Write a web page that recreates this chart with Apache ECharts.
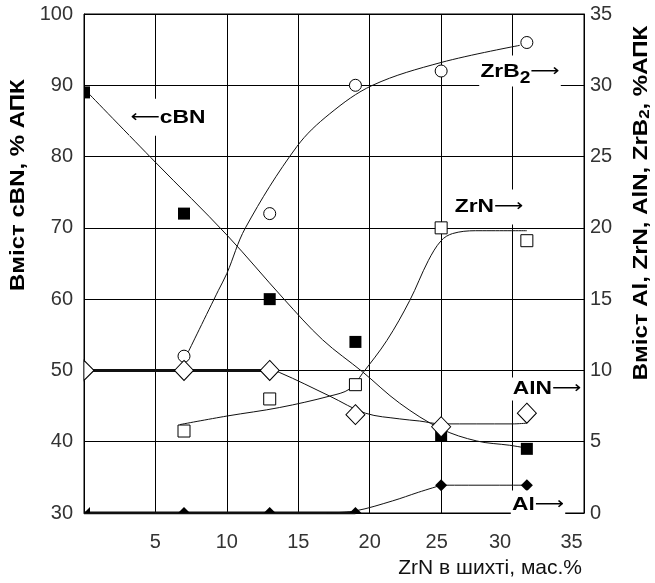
<!DOCTYPE html>
<html><head><meta charset="utf-8">
<script src="https://cdn.jsdelivr.net/npm/echarts@6/dist/echarts.min.js"></script>
<style>html,body{margin:0;padding:0;background:#fff}#c{width:655px;height:583px}</style>
</head><body><div id="c"></div>
<script>
// ---- data ----
const xVals    = [0, 7, 13, 19, 25, 31];           // ZrN in charge, wt.%
const cbnVals  = [89, 72, 60, 54, 40.8, 39];       // left axis, % APK
const zrb2Vals = [null, 11, 21, 30, 31, 33];       // right axis
const zrnVals  = [null, 5.75, 8, 9, 20, 19.1];     // right axis
const alnVals  = [10, 10, 10, 6.9, 6.05, 7];       // right axis
const alVals   = [0, 0, 0, 0, 1.95, 1.95];         // right axis

// trend curves as drawn in the reference
const cbnFit  = [[0.3,88.9],[5,79.2],[10,69],[14,60],[16.7,54.3],[19.5,49.8],[22.1,45.4],[25,41.8],[27.5,40.1],[29.8,39.5],[31,39.1]];
const zrb2Fit = [[7.3,11.3],[9.4,15.6],[10,16.8],[11.3,20],[14.9,25.7],[17.2,28],[20.2,30],[25,31.6],[30.5,32.8]];
const zrnFit  = [[6.7,6.2],[10,6.8],[13.7,7.4],[17.2,8.2],[18.6,8.7],[19.5,9.8],[21.2,12.1],[22.8,14.9],[24.1,17.7],[25,19.1],[25.8,19.6],[27.4,19.8],[31,19.8]];
const alnFlat = [[0,10],[13,10]];
const alnFit  = [[13,10],[13.7,9.85],[17.2,8.2],[19.7,7.0],[22.1,6.6],[23.5,6.45],[25,6.25],[30,6.25],[31,6.3]];
const alFlat  = [[0,0],[19,0]];
const alFit   = [[17,0],[19,0.15],[21.6,0.85],[23.4,1.45],[25,1.95]];
const alTop   = [[25,1.95],[31,1.95]];

const xTicks     = [5, 10, 15, 20, 25, 30, 35];
const leftTicks  = [30, 40, 50, 60, 70, 80, 90, 100];
const rightTicks = [0, 5, 10, 15, 20, 25, 30, 35];

// annotation label centres [x, y] (y on left axis for cBN, right axis otherwise)
const lblCbn  = [5.88, 85.5];
const lblZrb2 = [30.52, 31.0];
const lblZrn  = [28.35, 21.46];
const lblAln  = [32.41, 8.7];
const lblAl   = [31.78, 0.7];

// ---- build ----
const FF = '"Liberation Sans", Arial, sans-serif';
function pts(ys){ return xVals.map((x,i)=> ys[i]==null ? null : [x, ys[i]]).filter(Boolean); }

function fitLine(data, yIdx, w){
  return {type: 'line', data: data, yAxisIndex: yIdx, smooth: 0.35, symbol: 'none', silent: true,
          lineStyle: {color: '#111', width: w || 1}, z: 3};
}

const openStyle = {color: '#fff', borderColor: '#000', borderWidth: 1, opacity: 1};
const fillStyle = {color: '#000', opacity: 1};

const cbnData = pts(cbnVals).map(p => p[0] === 0 ? {value: p, symbol: 'rect', symbolSize: [6, 12], symbolOffset: [3, 0]} : p);
const alnData = pts(alnVals).map(p => p[0] === 0 ? {value: p, symbol: 'path://M0,0L10,10L0,20Z', symbolSize: [10, 20], symbolOffset: [5, 0]} : p);
const alData  = pts(alVals).map(p => {
  if (p[1] !== 0) return p;
  if (p[0] === 0) return {value: p, symbol: 'path://M0,10L10,0L10,10Z', symbolSize: [6, 6], symbolOffset: [3, -3]};
  return {value: p, symbol: 'path://M0,10L10,0L20,10Z', symbolSize: [12, 6], symbolOffset: [0, -3]};
});

const gridLine = {show: true, lineStyle: {color: '#000', width: 1}};

const option = {
  animation: false,
  backgroundColor: '#fff',
  grid: {left: 84, right: 71, top: 14, bottom: 70, show: true, borderColor: '#000', borderWidth: 1, containLabel: false},
  xAxis: {
    type: 'value', min: 0, max: 35, interval: 5,
    axisLine: {show: true, lineStyle: {color: '#000', width: 1}},
    axisTick: {show: false}, splitLine: gridLine,
    axisLabel: {
      fontSize: 20, fontFamily: FF, color: '#333', margin: 19,
      formatter: v => {
        if (xTicks.indexOf(v) < 0) return '';
        if (v === 25) return '{r25|' + v + '}';
        if (v === 30 || v === 35) return '{r30|' + v + '}';
        return '{n|' + v + '}';
      },
      rich: {
        n: {fontSize: 20, fontFamily: FF, color: '#333'},
        r25: {fontSize: 20, fontFamily: FF, color: '#333', padding: [0, 9, 0, 0]},
        r30: {fontSize: 20, fontFamily: FF, color: '#333', padding: [0, 25, 0, 0]}
      }
    },
    name: 'ZrN в шихті, мас.%', nameLocation: 'end', nameGap: 0,
    nameTextStyle: {fontSize: 21, fontFamily: FF, color: '#111', align: 'right', verticalAlign: 'top', padding: [45, 2, 0, 0]}
  },
  yAxis: [
    {
      type: 'value', min: 30, max: 100, interval: 10, position: 'left',
      axisLine: {show: true, lineStyle: {color: '#000', width: 1}},
      axisTick: {show: false}, splitLine: gridLine,
      axisLabel: {fontSize: 20, fontFamily: FF, color: '#333', margin: 11,
                  formatter: v => leftTicks.indexOf(v) >= 0 ? String(v) : ''}
    },
    {
      type: 'value', min: 0, max: 35, interval: 5, position: 'right',
      axisLine: {show: true, lineStyle: {color: '#000', width: 1}},
      axisTick: {show: false}, splitLine: {show: false},
      axisLabel: {fontSize: 20, fontFamily: FF, color: '#333', margin: 6,
                  formatter: v => rightTicks.indexOf(v) >= 0 ? String(v) : ''}
    }
  ],
  series: [
    fitLine(alnFlat, 1, 3),
    fitLine(alFlat, 1, 3),
    fitLine(cbnFit, 0),
    fitLine(zrb2Fit, 1),
    fitLine(zrnFit, 1),
    fitLine(alnFit, 1),
    fitLine(alFit, 1),
    fitLine(alTop, 1),
    {type: 'scatter', name: 'cBN', yAxisIndex: 0, data: cbnData, symbol: 'rect', symbolSize: 12,
     itemStyle: fillStyle, z: 5, silent: true},
    {type: 'scatter', name: 'ZrB2', yAxisIndex: 1, data: pts(zrb2Vals), symbol: 'circle', symbolSize: 12,
     itemStyle: openStyle, z: 5, silent: true},
    {type: 'scatter', name: 'ZrN', yAxisIndex: 1, data: pts(zrnVals), symbol: 'rect', symbolSize: 12,
     itemStyle: openStyle, z: 5, silent: true},
    {type: 'scatter', name: 'AlN', yAxisIndex: 1, data: alnData, symbol: 'diamond', symbolSize: [19, 20],
     itemStyle: openStyle, z: 5, silent: true},
    {type: 'scatter', name: 'Al', yAxisIndex: 1, data: alData, symbol: 'diamond', symbolSize: 12,
     itemStyle: fillStyle, z: 5, silent: true}
  ]
};

const chart = echarts.init(document.getElementById('c'), null, {renderer: 'canvas'});
chart.setOption(option);

// ---- annotation labels & axis titles, placed through the chart's own scales ----
const LBL = 'bold 19px ' + FF;
const ARR = 'normal 17px "DejaVu Sans", sans-serif';
const richLbl = {
  b: {font: LBL, fill: '#000'},
  a: {font: ARR, fill: '#000'},
  s: {font: 'bold 16px ' + FF, fill: '#000', padding: [13, 0, 0, 0]}
};
function lbl(coord, yIdx, text, pad){
  const p = chart.convertToPixel({xAxisIndex: 0, yAxisIndex: yIdx}, coord);
  return {type: 'text', x: p[0], y: p[1], scaleX: 1.2, silent: true, z: 50,
          style: {text: text, font: LBL, fill: '#000', align: 'center', verticalAlign: 'middle',
                  backgroundColor: '#fff', padding: pad, rich: richLbl}};
}
const gridRect = chart.getModel().getComponent('grid').coordinateSystem.getRect();
chart.setOption({
  graphic: [
    {type: 'text', x: 18, y: gridRect.y + gridRect.height * 0.343, rotation: Math.PI / 2, scaleX: 1.2, silent: true,
     style: {text: 'Вміст cBN, % АПК', font: 'bold 20px ' + FF, fill: '#000', align: 'center', verticalAlign: 'middle'}},
    {type: 'text', x: 641, y: gridRect.y + gridRect.height * 0.379, rotation: Math.PI / 2, scaleX: 1.2, silent: true,
     style: {text: 'Вміст Al, ZrN, AlN, ZrB{s|2}, %АПК', font: 'bold 20px ' + FF, fill: '#000', align: 'center', verticalAlign: 'middle',
             rich: {s: {font: 'bold 14px ' + FF, fill: '#000', padding: [9, 0, 0, 0]}}}},
    lbl(lblCbn, 0, '{a|⟵}{b|cBN}', [9, 1, 9, 1]),
    lbl(lblZrb2, 1, '{b|ZrB}{s|2}{a|⟶}', [2, 1, 0, 1]),
    lbl(lblZrn, 1, '{b|ZrN}{a|⟶}', [8, 1, 8, 1]),
    lbl(lblAln, 1, '{b|AlN}{a|⟶}', [2, 1, 2, 1]),
    lbl(lblAl, 1, '{b|Al}{a|⟶}', [5, 1, 1, 1])
  ]
});
</script>
</body></html>
